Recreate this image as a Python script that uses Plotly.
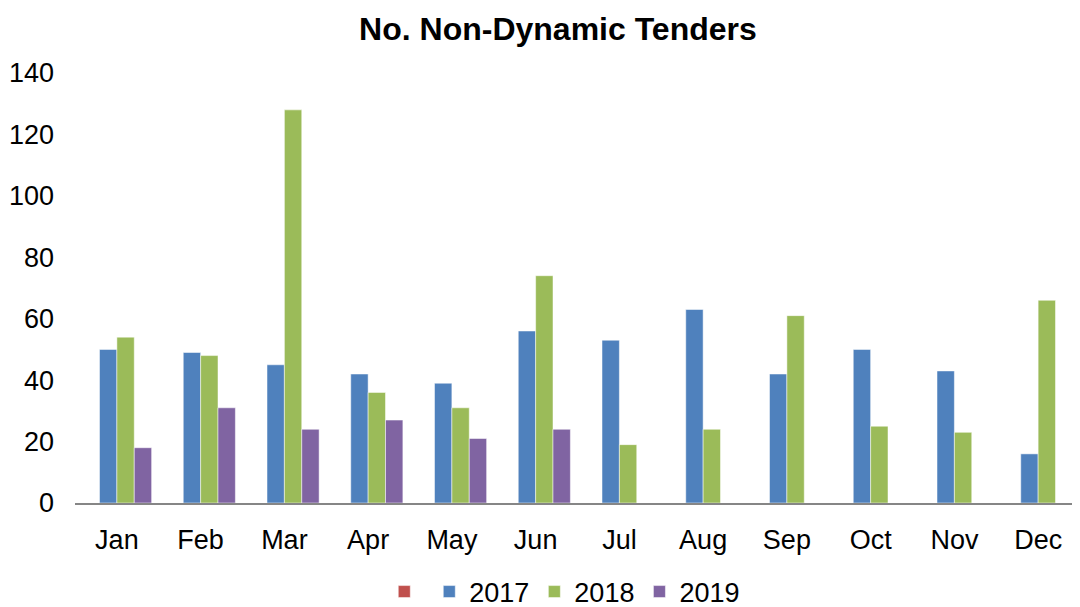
import plotly.graph_objects as go

months = ["Jan", "Feb", "Mar", "Apr", "May", "Jun", "Jul", "Aug", "Sep", "Oct", "Nov", "Dec"]
series_blank = [None] * 12
v2017 = [50, 49, 45, 42, 39, 56, 53, 63, 42, 50, 43, 16]
v2018 = [54, 48, 128, 36, 31, 74, 19, 24, 61, 25, 23, 66]
v2019 = [18, 31, 24, 27, 21, 24, None, None, None, None, None, None]
y_ticks = [0, 20, 40, 60, 80, 100, 120, 140]

fig = go.Figure()
fig.add_trace(go.Bar(x=months, y=series_blank, name="", marker_color="#C0504D"))
fig.add_trace(go.Bar(x=months, y=v2017, name="2017", marker_color="#4F81BD"))
fig.add_trace(go.Bar(x=months, y=v2018, name="2018", marker_color="#9BBB59"))
fig.add_trace(go.Bar(x=months, y=v2019, name="2019", marker_color="#8064A2"))

fig.update_traces(marker_line_color="white", marker_line_width=0.5)

fig.update_layout(
    width=1072, height=599,
    barmode="group", bargap=0.17, bargroupgap=0,
    paper_bgcolor="white", plot_bgcolor="white",
    font=dict(family="Liberation Sans, Arial, sans-serif", size=26, color="#000000"),
    title=dict(text="<b>No. Non-Dynamic Tenders</b>", x=0.513, xanchor="center",
               xref="container", y=0.965, yanchor="middle", yref="container",
               font=dict(size=32)),
    margin=dict(l=67, r=0, t=65, b=104, autoexpand=False),
    showlegend=True,
    legend=dict(orientation="h", xref="container", x=0.351, xanchor="left",
                yref="container", y=0.025, yanchor="middle",
                font=dict(size=27), traceorder="normal"),
    xaxis=dict(showline=True, linecolor="#868686", linewidth=2, ticks="",
               tickfont=dict(size=27), showgrid=False, zeroline=False,
               automargin=False, ticklabelstandoff=12),
    yaxis=dict(range=[0, 140], tickvals=y_ticks, showgrid=False, zeroline=False,
               showline=False, ticks="", tickfont=dict(size=27), ticklabelstandoff=20,
               automargin=False),
)

fig.write_html("out.html")
